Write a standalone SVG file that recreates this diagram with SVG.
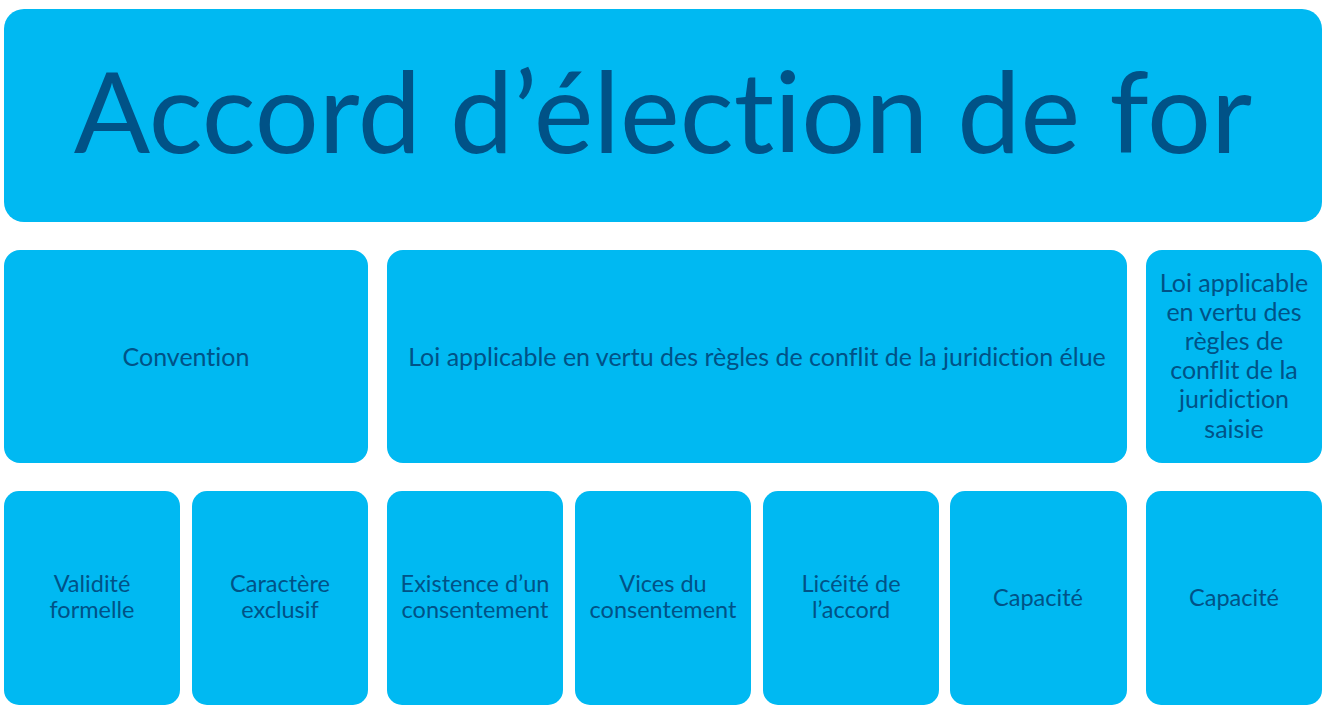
<svg xmlns="http://www.w3.org/2000/svg" width="1333" height="709" viewBox="0 0 1333 709">
<style>
.box{fill:#00B9F2;}
.t{font-family:Lato,"Open Sans",sans-serif;fill:#005287;text-anchor:middle;font-size:23.5px;font-variant-ligatures:none;}
.m{font-size:25px;}
.title{font-size:113px;}
</style>
<rect width="1333" height="709" fill="#fff"/>
<g id="title"><rect class="box" x="4" y="9" width="1318" height="213" rx="20"/><text class="t title" x="663" y="153">Accord d’élection de for</text></g>
<g id="convention"><rect class="box" x="4" y="250" width="364" height="213" rx="16"/><text class="t m" x="186" y="366">Convention</text></g>
<g id="loi-elue"><rect class="box" x="387" y="250" width="740" height="213" rx="16"/><text class="t m" x="757" y="366">Loi applicable en vertu des règles de conflit de la juridiction élue</text></g>
<g id="loi-saisie"><rect class="box" x="1146" y="250" width="176" height="213" rx="16"/><text class="t m" x="1234"><tspan x="1234" y="292">Loi applicable</tspan><tspan x="1234" y="321">en vertu des</tspan><tspan x="1234" y="350">règles de</tspan><tspan x="1234" y="379">conflit de la</tspan><tspan x="1234" y="408">juridiction</tspan><tspan x="1234" y="438">saisie</tspan></text></g>
<g id="validite"><rect class="box" x="4" y="491" width="176" height="214" rx="15"/><text class="t"><tspan x="92" y="592">Validité</tspan><tspan x="92" y="618">formelle</tspan></text></g>
<g id="exclusif"><rect class="box" x="192" y="491" width="176" height="214" rx="15"/><text class="t"><tspan x="280" y="592">Caractère</tspan><tspan x="280" y="618">exclusif</tspan></text></g>
<g id="existence"><rect class="box" x="387" y="491" width="176" height="214" rx="15"/><text class="t"><tspan x="475" y="592">Existence d’un</tspan><tspan x="475" y="618">consentement</tspan></text></g>
<g id="vices"><rect class="box" x="575" y="491" width="176" height="214" rx="15"/><text class="t"><tspan x="663" y="592">Vices du</tspan><tspan x="663" y="618">consentement</tspan></text></g>
<g id="liceite"><rect class="box" x="763" y="491" width="176" height="214" rx="15"/><text class="t"><tspan x="851" y="592">Licéité de</tspan><tspan x="851" y="618">l’accord</tspan></text></g>
<g id="capacite1"><rect class="box" x="950" y="491" width="177" height="214" rx="15"/><text class="t" x="1038" y="606">Capacité</text></g>
<g id="capacite2"><rect class="box" x="1146" y="491" width="176" height="214" rx="15"/><text class="t" x="1234" y="606">Capacité</text></g>
<g id="connectors"></g>
</svg>
